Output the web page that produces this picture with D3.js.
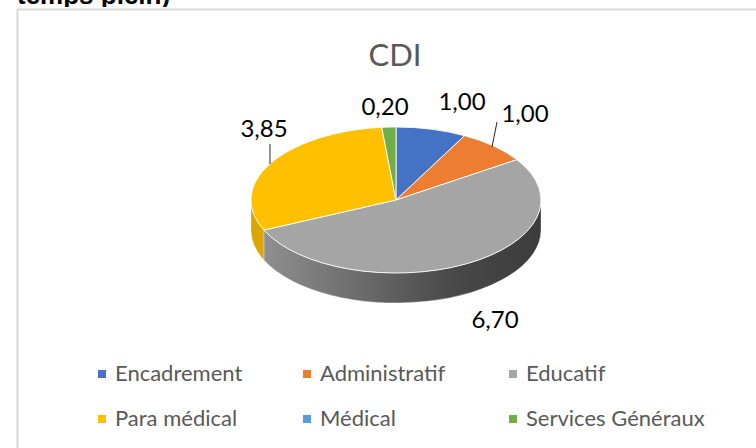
<!DOCTYPE html>
<html>
<head>
<meta charset="utf-8">
<script src="https://cdn.jsdelivr.net/npm/d3@7"></script>
<style>
    html, body { margin: 0; padding: 0; background: #fff; overflow: hidden; }
    text { font-family: Lato, "Open Sans", sans-serif; }
</style>
</head>
<body>
<div id="chart"></div>
<script>
const categories = ["Encadrement", "Administratif", "Educatif", "Para médical", "Médical", "Services Généraux"];
const values = [1.00, 1.00, 6.70, 3.85, 0, 0.20];
const colors = ["#4472c4", "#ed7d31", "#a5a5a5", "#ffc000", "#5b9bd5", "#70ad47"];

// label spots, same order as categories (médical has none)
const labelSpots = [[462, 110], [525, 122], [495, 328], [264, 137], null, [385, 115]];
const leaders = [[[270, 144], [270, 164]], [[497, 122], [492, 147]]];

const width = 756, height = 448;
const cx = 396, cy = 200, rx = 145, ry = 73, depth = 30;
const formatValue = v => v.toFixed(2).replace(".", ",");

const svg = d3.select("#chart")
    .append("svg")
    .attr("width", width)
    .attr("height", height)
    .style("display", "block");

const defs = svg.append("defs");

// side gradient for the grey wall
const wallGradient = defs.append("linearGradient")
    .attr("id", "wall-grey")
    .attr("gradientUnits", "userSpaceOnUse")
    .attr("x1", -rx).attr("x2", rx)
    .attr("y1", 0).attr("y2", 0);
wallGradient.append("stop").attr("offset", "0%").attr("stop-color", "#949494");
wallGradient.append("stop").attr("offset", "70%").attr("stop-color", "#484848");
wallGradient.append("stop").attr("offset", "100%").attr("stop-color", "#3c3c3c");

defs.append("clipPath")
    .attr("id", "heading-clip")
    .append("rect")
    .attr("width", width)
    .attr("height", 7);

// page heading cut off by the top of the picture
svg.append("text")
    .attr("x", 17)
    .attr("y", 4)
    .attr("font-size", 26)
    .attr("font-weight", 700)
    .attr("fill", "#000")
    .attr("clip-path", "url(#heading-clip)")
    .style("font-family", "'Liberation Sans', sans-serif")
    .text("temps plein)");

svg.append("rect")
    .attr("x", 17.5)
    .attr("y", 9.5)
    .attr("width", 800)
    .attr("height", 500)
    .attr("fill", "#fff")
    .attr("stroke", "#d9d9d9")
    .attr("stroke-width", 2);

svg.append("text")
    .attr("x", 395)
    .attr("y", 66)
    .attr("text-anchor", "middle")
    .attr("font-size", 31)
    .attr("fill", "#595959")
    .text("CDI");

const pie = d3.pie().sort(null).value(d => d.value);
const slices = pie(categories.map((name, i) => ({ name, value: values[i], color: colors[i] })));

const arc = d3.arc().innerRadius(0).outerRadius(rx);
const pieLayer = svg.append("g").attr("transform", `translate(${cx}, ${cy})`);

// point on the top ellipse for a d3 pie angle
const rimX = a => rx * Math.sin(a);
const rimY = a => -ry * Math.cos(a);

// only the part of the rim between 90 and 270 degrees faces us
const wallPath = d => {
    const a0 = Math.max(d.startAngle, Math.PI / 2);
    const a1 = Math.min(d.endAngle, Math.PI * 1.5);
    if (a1 <= a0) return null;
    return `M${rimX(a0)},${rimY(a0)}`
        + `A${rx},${ry} 0 0 1 ${rimX(a1)},${rimY(a1)}`
        + `L${rimX(a1)},${rimY(a1) + depth}`
        + `A${rx},${ry} 0 0 0 ${rimX(a0)},${rimY(a0) + depth}Z`;
};

pieLayer.selectAll("path.wall")
    .data(slices.filter(d => wallPath(d)))
    .join("path")
    .attr("class", "wall")
    .attr("d", wallPath)
    .attr("fill", d => d.data.name === "Educatif" ? "url(#wall-grey)" : "#dca600")
    .attr("stroke", "#fff")
    .attr("stroke-opacity", 0.5)
    .attr("stroke-width", 0.6);

pieLayer.selectAll("path.top")
    .data(slices.filter(d => d.value > 0))
    .join("path")
    .attr("class", "top")
    .attr("d", arc)
    .attr("transform", `scale(1, ${ry / rx})`)
    .attr("fill", d => d.data.color)
    .attr("stroke", "#fff")
    .attr("stroke-width", 1)
    .attr("stroke-opacity", 0.85)
    .attr("vector-effect", "non-scaling-stroke");

svg.selectAll("line.leader")
    .data(leaders)
    .join("line")
    .attr("class", "leader")
    .attr("x1", d => d[0][0]).attr("y1", d => d[0][1])
    .attr("x2", d => d[1][0]).attr("y2", d => d[1][1])
    .attr("stroke", "#262626")
    .attr("stroke-width", 1);

svg.selectAll("text.value")
    .data(slices.filter(d => labelSpots[d.index]))
    .join("text")
    .attr("class", "value")
    .attr("x", d => labelSpots[d.index][0])
    .attr("y", d => labelSpots[d.index][1])
    .attr("text-anchor", "middle")
    .attr("font-size", 24)
    .attr("fill", "#000")
    .text(d => formatValue(d.value));

// legend, 3 columns
const legendX = d3.scaleOrdinal().domain([0, 1, 2]).range([98, 303, 509]);
const legendY = d3.scaleOrdinal().domain([0, 1]).range([374, 419]);

const legend = svg.selectAll("g.legend-item")
    .data(categories)
    .join("g")
    .attr("class", "legend-item")
    .attr("transform", (d, i) => `translate(${legendX(i % 3)}, ${legendY(Math.floor(i / 3))})`);

legend.append("rect")
    .attr("x", 0).attr("y", -4)
    .attr("width", 8).attr("height", 8)
    .attr("fill", (d, i) => colors[i]);

legend.append("text")
    .attr("x", 17)
    .attr("y", 7)
    .attr("font-size", 22)
    .attr("fill", "#595959")
    .text(d => d);
</script>
</body>
</html>
